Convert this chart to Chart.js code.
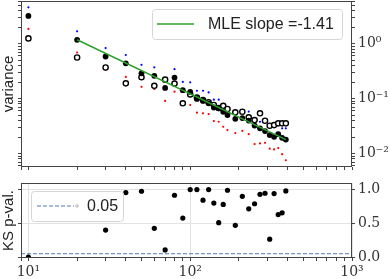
<!DOCTYPE html>
<html>
<head>
<meta charset="utf-8">
<script src="https://cdn.jsdelivr.net/npm/chart.js@4.4.1/dist/chart.umd.min.js"></script>
<style>
html,body{margin:0;padding:0;background:#fff;}
#wrap{position:relative;width:390px;height:279px;overflow:hidden;}
canvas{position:absolute;left:0;}
#varChart{top:0;}
#ksChart{top:175px;}
</style>
</head>
<body>
<div id="wrap">
<canvas id="varChart" width="390" height="175"></canvas>
<canvas id="ksChart" width="390" height="104"></canvas>
</div>
<script>
// sample sizes (x axis)
const sizes = [10,20,30,40,50,60,70,80,90,100,110,120,130,140,150,160,170,190,210,230,250,270,290,310,330,350,370,390];

// top panel: variance estimates
const variance    = [3.21,1.18,0.586,0.440,0.289,0.260,0.157,0.242,0.143,0.1326,0.0988,0.0908,0.0824,0.0690,0.0668,0.0578,0.0504,0.0429,0.0444,0.0399,0.0324,0.0288,0.0257,0.0217,0.0202,0.0226,0.0194,0.0180];
const varianceHi  = [4.61,1.68,0.835,0.624,0.413,0.372,0.229,0.345,0.202,0.198,0.1394,0.1394,0.1298,0.0959,0.0959,0.0767,0.0676,0.0571,0.0621,0.0583,0.0425,0.0380,0.0391,0.0330,0.0330,0.0345,0.0288,0.0288];
const varianceLo  = [1.86,0.693,0.335,0.249,0.164,0.150,0.0908,0.134,0.0800,0.0767,0.0555,0.0541,0.0525,0.0391,0.0380,0.0308,0.0268,0.0236,0.0260,0.0226,0.0149,0.0153,0.0157,0.0123,0.0119,0.0126,0.00975,0.00757];
const varianceAlt = [1.25,0.562,0.369,0.190,0.246,0.171,0.222,0.188,0.0824,0.1193,0.1043,0.0947,0.0863,0.0767,0.0676,0.0742,0.0648,0.0564,0.0578,0.0457,0.0408,0.0541,0.0396,0.0321,0.0330,0.0355,0.0355,0.0355];

// MLE fit line end points
const fitX = [20, 390];
const fitY = [1.18, 0.018];
const fitLabel = "MLE slope =-1.41";

// bottom panel: KS p-values (null = not computed)
const ksPval = [0.0,null,0.40,0.956,0.975,0.426,0.107,0.916,0.578,1.0,1.0,0.843,1.0,0.80,0.51,0.78,0.99,0.47,0.90,0.715,0.79,0.93,0.945,0.265,0.94,0.63,0.655,0.98];
const alpha = 0.05;

// ticks
const xTickLabels = [10, 100, 1000];
const varTickLabels = [0.01, 0.1, 1];
const ksTickLabels = [0, 0.5, 1];
const xRange = [9, 1000];
const varRange = [0.0057, 6.0];
const ksRange = [-0.013, 1.097];

Chart.defaults.font.family = "Liberation Sans";

const sup = {"0":"⁰","1":"¹","2":"²","3":"³","-":"⁻"};
function pow10Label(v){
  const e = Math.round(Math.log10(v));
  return "10" + String(e).split("").map(c => sup[c]).join("");
}
function isLabel(v, list){
  return list.some(t => Math.abs(Math.log10(v) - Math.log10(t)) < 1e-6);
}
function pts(ys){
  return sizes.map((x,i) => ({x:x, y:ys[i]}));
}
// 1..9 x 10^n tick positions inside a range
function logTicks(lo, hi){
  const out = [];
  for(let e = Math.floor(Math.log10(lo)); e <= Math.ceil(Math.log10(hi)); e++){
    for(let m = 1; m < 10; m++){
      const v = +(m*Math.pow(10,e)).toPrecision(6);
      if(v >= lo && v <= hi) out.push({value:v});
    }
  }
  return out;
}
function noPad(s){ s.paddingTop = 0; s.paddingBottom = 0; s.paddingLeft = 0; s.paddingRight = 0; }

// legend box + axes frame
const panelDeco = {
  id: "panelDeco",
  afterDatasetsDraw(chart, args, o){
    const ctx = chart.ctx, a = chart.chartArea, L = o.legend;
    ctx.save();
    if(L){
      const cy = L.y + L.h/2;
      ctx.beginPath();
      ctx.roundRect(L.x+0.5, L.y+0.5, L.w, L.h, 3);
      ctx.fillStyle = "rgba(255,255,255,0.85)";
      ctx.fill();
      ctx.strokeStyle = "#d6d6d6";
      ctx.lineWidth = 1;
      ctx.stroke();
      ctx.beginPath();
      ctx.setLineDash(L.dash || []);
      ctx.strokeStyle = L.color;
      ctx.lineWidth = L.lineWidth;
      ctx.moveTo(L.x + L.handle[0], cy);
      ctx.lineTo(L.x + L.handle[1], cy);
      ctx.stroke();
      ctx.setLineDash([]);
      if(L.dot){
        ctx.beginPath();
        ctx.arc(L.x + L.dot, cy, 1.8, 0, Math.PI*2);
        ctx.fillStyle = "#c8c8c8";
        ctx.fill();
      }
      ctx.font = L.font;
      ctx.fillStyle = "#222";
      ctx.textBaseline = "middle";
      ctx.fillText(L.text, L.x + L.textX, cy + 1);
    }
    ctx.strokeStyle = "#444";
    ctx.lineWidth = 1;
    ctx.strokeRect(Math.round(a.left)+0.5, Math.round(a.top)+0.5, Math.round(a.right-a.left)-1, Math.round(a.bottom-a.top)-1);
    ctx.restore();
  }
};

const serif = {family:"DejaVu Serif", size:14};
const tickOnly = {drawOnChartArea:false, tickLength:3, tickColor:"#444"};

new Chart(document.getElementById("varChart"), {
  type: "scatter",
  data: {
    datasets: [
      {label:fitLabel, type:"line", showLine:true, data:fitX.map((x,i)=>({x:x, y:fitY[i]})),
       borderColor:"#2ca02c", borderWidth:1.5, pointRadius:0, order:1},
      {label:"variance", data:pts(variance), backgroundColor:"#000", borderWidth:0, pointRadius:2.9, order:2},
      {label:"alt", data:pts(varianceAlt), backgroundColor:"#fff", borderColor:"#000", borderWidth:1.4, pointRadius:2.6, order:3},
      {label:"upper", data:pts(varianceHi), backgroundColor:"#0000ff", borderWidth:0, pointRadius:1.1, order:4},
      {label:"lower", data:pts(varianceLo), backgroundColor:"#ff0000", borderWidth:0, pointRadius:1.1, order:5}
    ]
  },
  options: {
    responsive:false, animation:false, events:[],
    layout:{padding:{top:1, left:0, right:0, bottom:0}, autoPadding:false},
    plugins:{
      legend:{display:false}, tooltip:{enabled:false},
      panelDeco:{legend:{x:152, y:9, w:190, h:30, handle:[5,42], color:"#2ca02c", lineWidth:1.5,
                         textX:56, text:fitLabel, font:"16px 'Liberation Sans'"}}
    },
    scales:{
      x:{type:"logarithmic", min:xRange[0], max:xRange[1],
         afterBuildTicks: s => { s.ticks = logTicks(xRange[0], xRange[1]); },
         afterFit: s => { s.height = 8; noPad(s); },
         ticks:{display:false}, grid:tickOnly, border:{display:false}},
      y:{type:"logarithmic", position:"right", min:varRange[0], max:varRange[1],
         afterBuildTicks: s => { s.ticks = logTicks(varRange[0], varRange[1]); },
         afterFit: s => { s.width = 38; noPad(s); },
         ticks:{autoSkip:false, padding:3, color:"#333", font:serif,
                callback: v => isLabel(v, varTickLabels) ? pow10Label(v) : ""},
         grid:tickOnly, border:{display:false}},
      yl:{type:"logarithmic", position:"left", min:varRange[0], max:varRange[1],
          afterBuildTicks: s => { s.ticks = logTicks(varRange[0], varRange[1]); },
          afterFit: s => { s.width = 21; noPad(s); },
          ticks:{display:false}, grid:tickOnly, border:{display:false},
          title:{display:true, text:"variance", padding:0, color:"#222", font:{size:15}}}
    }
  },
  plugins:[panelDeco]
});

new Chart(document.getElementById("ksChart"), {
  type: "scatter",
  data: {
    datasets: [
      {label:"KS p-val.", data:pts(ksPval), backgroundColor:"#000", borderWidth:0, pointRadius:2.6, order:1},
      {label:String(alpha), type:"line", showLine:true, data:xRange.map(x => ({x:x, y:alpha})),
       borderColor:"#5578b8", borderWidth:1.2, borderDash:[4,2], pointRadius:0, order:2}
    ]
  },
  options: {
    responsive:false, animation:false, events:[],
    layout:{padding:{top:8, left:0, right:0, bottom:0}, autoPadding:false},
    plugins:{
      legend:{display:false}, tooltip:{enabled:false},
      panelDeco:{legend:{x:31, y:16, w:92, h:30, handle:[6,43], dash:[4,2], color:"#5578b8", lineWidth:1.2, dot:46,
                         textX:56, text:String(alpha), font:"16px 'Liberation Sans'"}}
    },
    scales:{
      x:{type:"logarithmic", min:xRange[0], max:xRange[1],
         afterBuildTicks: s => { s.ticks = logTicks(xRange[0], xRange[1]); },
         afterFit: s => { s.height = 21; noPad(s); },
         ticks:{autoSkip:false, maxRotation:0, padding:3, color:"#333", font:serif,
                callback: v => isLabel(v, xTickLabels) ? pow10Label(v) : ""},
         grid:{tickLength:3, tickColor:"#444",
               color: c => (c.tick && isLabel(c.tick.value, xTickLabels)) ? "#e2e2e2" : "rgba(0,0,0,0)"},
         border:{display:false}},
      y:{position:"right", min:ksRange[0], max:ksRange[1],
         afterBuildTicks: s => { s.ticks = ksTickLabels.map(v => ({value:v})); },
         afterFit: s => { s.width = 38; noPad(s); },
         ticks:{autoSkip:false, padding:3, color:"#333", font:serif, callback: v => v.toFixed(1)},
         grid:{tickLength:3, tickColor:"#444", color:"#e2e2e2"},
         border:{display:false}},
      yl:{position:"left", min:ksRange[0], max:ksRange[1],
          afterBuildTicks: s => { s.ticks = ksTickLabels.map(v => ({value:v})); },
          afterFit: s => { s.width = 21; noPad(s); },
          ticks:{display:false}, grid:tickOnly, border:{display:false},
          title:{display:true, text:"KS p-val.", padding:0, color:"#222", font:{size:15}}}
    }
  },
  plugins:[panelDeco]
});
</script>
</body>
</html>
